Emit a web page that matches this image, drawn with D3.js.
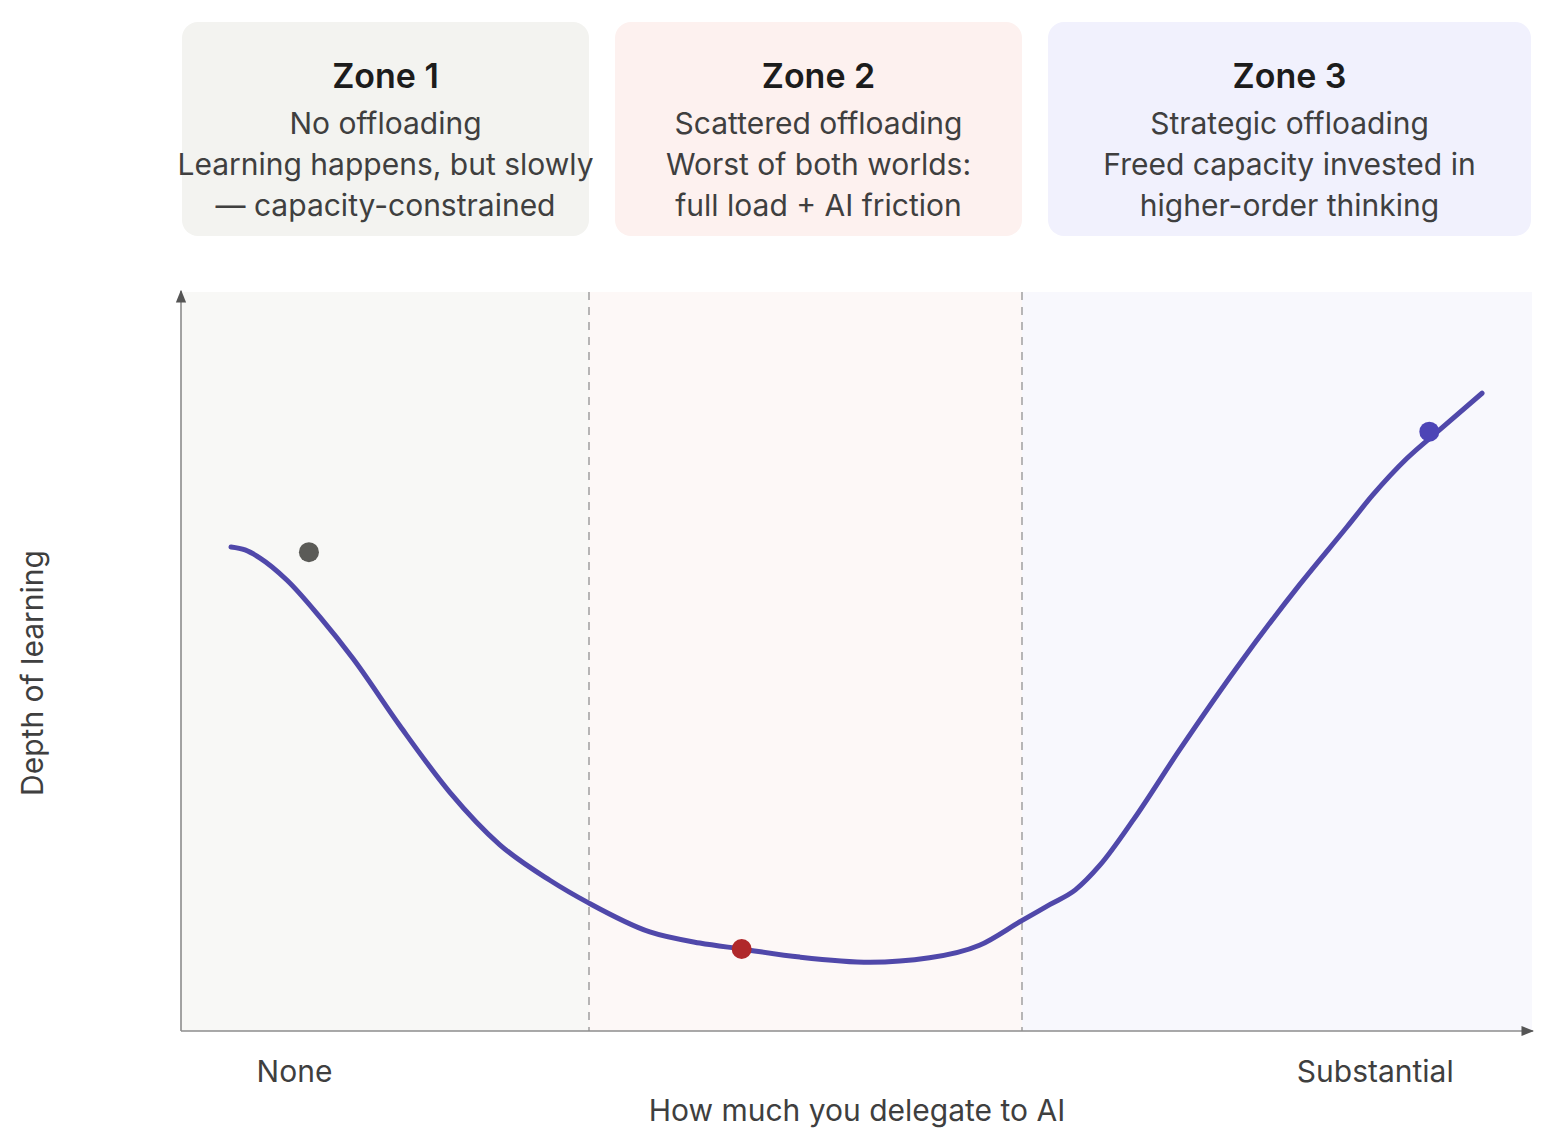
<!DOCTYPE html>
<html><head><meta charset="utf-8">
<script src="https://cdn.jsdelivr.net/npm/d3@7"></script>
<style>body{margin:0;background:#fff;} svg{display:block;font-family:Inter, "Noto Sans", sans-serif;}</style>
</head><body>
<svg id="c" width="1546" height="1148"></svg>
<script>
const zoneNames = ["Zone 1", "Zone 2", "Zone 3"];
const zoneLines = [
  ["No offloading", "Learning happens, but slowly", "— capacity-constrained"],
  ["Scattered offloading", "Worst of both worlds:", "full load + AI friction"],
  ["Strategic offloading", "Freed capacity invested in", "higher-order thinking"]
];
const zoneBounds = [[0, 30.2], [30.2, 62.25], [62.25, 100]];
const curveX = [3.7, 4.74, 5.85, 7.85, 10.29, 12.73, 16.2, 19.9, 23.6, 27.3, 30.2, 34.7, 38.4, 41.5, 45.8, 51.0, 55.4, 59.1, 62.2, 64.3, 66.2, 68.0, 70.5, 73.9, 78.4, 82.8, 86.3, 88.2, 90.75, 93.2, 96.3];
const curveY = [65.5, 65.1, 64.0, 61.0, 56.0, 50.4, 41.3, 32.3, 25.2, 20.4, 17.3, 13.4, 11.9, 11.1, 10.0, 9.3, 9.9, 11.6, 14.9, 17.1, 19.1, 22.4, 28.6, 38.0, 49.8, 60.4, 68.2, 72.5, 77.5, 81.4, 86.3];
const markerX = [9.47, 41.5, 92.4];
const markerY = [64.8, 11.1, 81.1];
const markerColors = ["#5b5b57", "#b0282b", "#4d45b6"];
const tickLabels = ["None", "Substantial"];
const tickPos = [8.4, 88.4];
const xTitle = "How much you delegate to AI";
const yTitle = "Depth of learning";

const bgColors = ["#f8f8f6", "#fdf8f7", "#f8f8fd"];
const cardColors = ["#f3f3f0", "#fdf1ef", "#f1f1fd"];

const svg = d3.select("#c");
const L = 181, R = 1532, T = 292, B = 1031;
const x = d3.scaleLinear().domain([0, 100]).range([L, R]);
const y = d3.scaleLinear().domain([0, 100]).range([B, T]);

svg.selectAll("rect.bg").data(zoneBounds).join("rect")
  .attr("x", d => x(d[0])).attr("y", T)
  .attr("width", d => x(d[1]) - x(d[0])).attr("height", B - T)
  .attr("fill", (d, i) => bgColors[i]);

const cardX = [[182, 589], [615, 1022], [1048, 1531]];
const cards = svg.selectAll("g.card").data(zoneNames).join("g");
cards.append("rect")
  .attr("x", (d, i) => cardX[i][0]).attr("y", 22)
  .attr("width", (d, i) => cardX[i][1] - cardX[i][0]).attr("height", 214)
  .attr("rx", 16).attr("fill", (d, i) => cardColors[i]);
cards.append("text")
  .attr("x", (d, i) => (cardX[i][0] + cardX[i][1]) / 2).attr("y", 88)
  .attr("text-anchor", "middle").attr("font-size", 34).attr("font-weight", 600)
  .attr("fill", "#1c1c1c").text(d => d);
cards.each(function(d, i) {
  d3.select(this).selectAll("text.l").data(zoneLines[i]).join("text")
    .attr("class", "l")
    .attr("x", (cardX[i][0] + cardX[i][1]) / 2)
    .attr("y", (t, j) => 134 + j * 41)
    .attr("text-anchor", "middle").attr("font-size", 30)
    .attr("fill", "#3f3f3f").text(t => t);
});

svg.selectAll("line.div").data([zoneBounds[1][0], zoneBounds[2][0]]).join("line")
  .attr("x1", d => x(d)).attr("x2", d => x(d)).attr("y1", T).attr("y2", B)
  .attr("stroke", "#8a8a8a").attr("stroke-width", 1.2).attr("stroke-dasharray", "8,7");

const defs = svg.append("defs");
defs.append("marker").attr("id", "arr").attr("viewBox", "0 0 10 10")
  .attr("refX", 9).attr("refY", 5).attr("markerWidth", 8).attr("markerHeight", 8)
  .attr("orient", "auto").append("path").attr("d", "M0,1 L10,5 L0,9 Z").attr("fill", "#555");
svg.append("line").attr("x1", L).attr("x2", L).attr("y1", B).attr("y2", T - 1)
  .attr("stroke", "#8c8c8c").attr("stroke-width", 1.6).attr("marker-end", "url(#arr)");
svg.append("line").attr("x1", L).attr("x2", R + 1).attr("y1", B).attr("y2", B)
  .attr("stroke", "#8c8c8c").attr("stroke-width", 1.6).attr("marker-end", "url(#arr)");

const pts = curveX.map((v, i) => [v, curveY[i]]);
svg.append("path").datum(pts)
  .attr("d", d3.line().x(d => x(d[0])).y(d => y(d[1])).curve(d3.curveMonotoneX))
  .attr("fill", "none").attr("stroke", "#5048aa").attr("stroke-width", 5)
  .attr("stroke-linecap", "round");

svg.selectAll("circle.m").data(markerX).join("circle")
  .attr("cx", d => x(d)).attr("cy", (d, i) => y(markerY[i])).attr("r", 10)
  .attr("fill", (d, i) => markerColors[i]);

svg.selectAll("text.tick").data(tickLabels).join("text")
  .attr("x", (d, i) => x(tickPos[i])).attr("y", 1082)
  .attr("text-anchor", "middle").attr("font-size", 30).attr("fill", "#3f3f3f").text(d => d);
svg.append("text").attr("x", 857).attr("y", 1121).attr("text-anchor", "middle")
  .attr("font-size", 30).attr("fill", "#3f3f3f").text(xTitle);
svg.append("text").attr("transform", "translate(43,673) rotate(-90)")
  .attr("text-anchor", "middle").attr("font-size", 30).attr("fill", "#3f3f3f").text(yTitle);
</script>
</body></html>
